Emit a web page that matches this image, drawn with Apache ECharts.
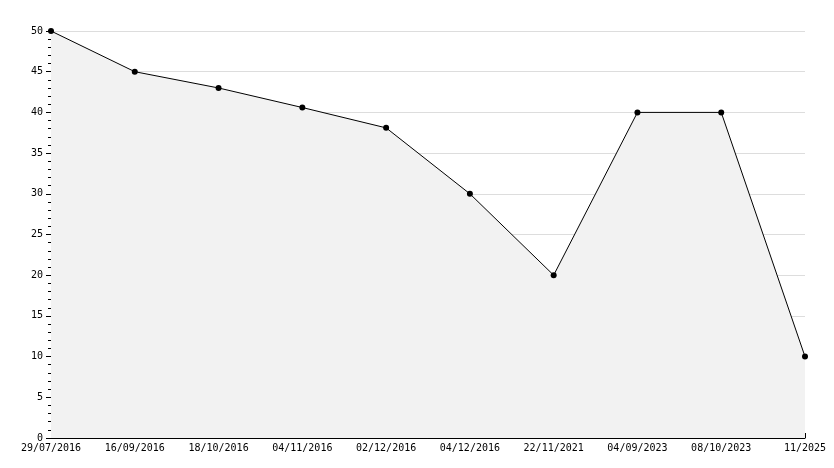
<!DOCTYPE html>
<html><head><meta charset="utf-8">
<script src="https://cdn.jsdelivr.net/npm/echarts@6/dist/echarts.min.js"></script>
<style>html,body{margin:0;padding:0;background:#fff}#main{width:834px;height:468px}</style>
</head><body><div id="main"></div>
<script>
var dates = ['29/07/2016','16/09/2016','18/10/2016','04/11/2016','02/12/2016','04/12/2016','22/11/2021','04/09/2023','08/10/2023','11/2025'];
var values = [50, 45, 43, 40.6, 38.1, 30, 20, 40, 40, 10];
var yTicks = [0, 5, 10, 15, 20, 25, 30, 35, 40, 45, 50];

var myChart = echarts.init(document.getElementById('main'));
var font = {fontFamily:'DejaVu Sans Mono', fontSize:10, color:'#000'};
var option = {
	animation:false,
	grid:{left:51, right:29, top:31, bottom:30},
	xAxis:[{
		type:'category', boundaryGap:false, data:dates,
		axisLine:{lineStyle:{color:'#000', width:1}},
		axisTick:{inside:true, length:5, lineStyle:{color:'#000'}},
		axisLabel:Object.assign({margin:5, showMinLabel:true, showMaxLabel:true, interval:0}, font),
		splitLine:{show:false}
	}],
	yAxis:[{
		type:'value', min:yTicks[0], max:yTicks[yTicks.length-1], interval:5,
		axisLine:{show:true, lineStyle:{color:'#000', width:1}},
		axisTick:{show:true, length:5, lineStyle:{color:'#000'}},
		minorTick:{show:true, splitNumber:5, length:3, lineStyle:{color:'#000'}},
		axisLabel:Object.assign({margin:8}, font),
		splitLine:{show:true, lineStyle:{color:'#ddd', width:1}}
	}],
	series:[{
		type:'line', data:values,
		symbol:'circle', symbolSize:6,
		itemStyle:{color:'#000'},
		lineStyle:{color:'#000', width:1},
		areaStyle:{color:'#f2f2f2', opacity:1}
	}]
};
myChart.setOption(option);
</script></body></html>
